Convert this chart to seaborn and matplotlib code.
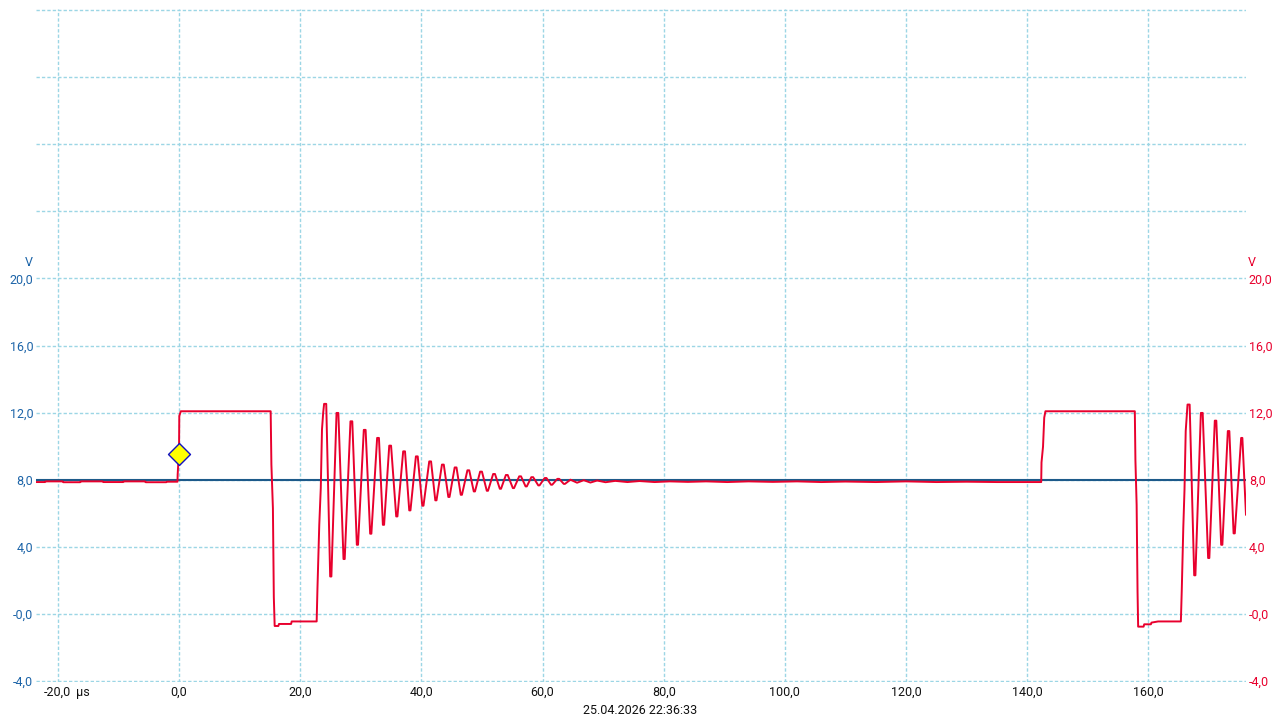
import matplotlib
matplotlib.use("Agg")
import matplotlib.pyplot as plt
import seaborn as sns
import pandas as pd

# ---- data (time in µs, voltage in V) ----
t_pre = [-23.6, -22.1, -22.0, -19.2, -19.1, -16.3, -16.2, -12.6, -12.5,
         -9.2, -9.1, -5.6, -5.5, -2.1, -2.0, -0.25]
v_pre = [7.86, 7.86, 7.9, 7.9, 7.85, 7.85, 7.9, 7.9, 7.86,
         7.86, 7.9, 7.9, 7.85, 7.85, 7.88, 7.88]

t_pulse1 = [-0.22, -0.1, 0.0, 0.05, 0.3, 15.13, 15.25, 15.5, 15.65, 15.79,
            16.4, 16.5, 18.5, 18.6, 22.72, 22.85, 23.15, 23.4, 23.6, 23.8]
v_pulse1 = [8.3, 9.1, 9.55, 11.8, 12.08, 12.08, 8.9, 6.3, 1.0, -0.72,
            -0.72, -0.6, -0.6, -0.45, -0.45, 1.5, 5.3, 7.5, 11.0, 12.0]

# ringing after the first pulse: flat top / flat bottom of each swing
peak1_start = [23.95, 26.0, 28.3, 30.5, 32.7, 34.7, 37.0, 39.1, 41.3, 43.4,
               45.5, 47.6, 49.7, 51.85, 53.95, 56.15, 58.15, 60.35, 62.45]
peak1_end = [24.3, 26.3, 28.6, 30.8, 33.0, 35.0, 37.3, 39.4, 41.6, 43.7,
             45.8, 47.9, 50.0, 52.15, 54.25, 56.45, 58.45, 60.65, 62.75]
peak1_v = [12.52, 11.98, 11.48, 10.97, 10.49, 10.03, 9.69, 9.39, 9.09, 8.90,
           8.73, 8.56, 8.48, 8.34, 8.28, 8.2, 8.15, 8.1, 8.05]
trough1_start = [24.95, 27.15, 29.35, 31.55, 33.65, 35.85, 38.0, 40.15, 42.3, 44.45,
                 46.5, 48.65, 50.8, 52.95, 55.1, 57.2, 59.3, 61.4, 63.5]
trough1_end = [25.15, 27.35, 29.55, 31.75, 33.85, 36.05, 38.2, 40.35, 42.5, 44.65,
               46.7, 48.85, 51.0, 53.15, 55.3, 57.4, 59.5, 61.6, 63.7]
trough1_v = [2.23, 3.27, 4.12, 4.78, 5.31, 5.81, 6.17, 6.45, 6.77, 6.97,
             7.10, 7.30, 7.34, 7.46, 7.50, 7.6, 7.66, 7.7, 7.75]

t_mid = [64.6, 65.7, 66.8, 67.9, 69.0, 70.4, 72.0, 74.0, 76.0, 78.5, 81.0,
         84.0, 87.0, 90.5, 94.0, 98.0, 102.0, 106.0, 110.0, 115.0, 120.0,
         125.0, 130.0, 135.0, 140.0, 142.3]
v_mid = [8.0, 7.82, 7.97, 7.83, 7.95, 7.85, 7.93, 7.86, 7.92, 7.86, 7.9,
         7.87, 7.9, 7.86, 7.9, 7.87, 7.9, 7.86, 7.89, 7.86, 7.9, 7.86,
         7.88, 7.86, 7.86, 7.86]

t_pulse2 = [142.35, 142.6, 142.8, 143.0, 157.75, 157.85, 158.05, 158.2, 158.3,
            159.2, 159.3, 160.4, 160.5, 161.6, 165.35, 165.5, 165.75, 165.95,
            166.15, 166.35]
v_pulse2 = [9.03, 9.97, 11.7, 12.08, 12.08, 9.15, 6.5, 1.33, -0.76,
            -0.76, -0.62, -0.62, -0.52, -0.45, -0.45, 1.43, 5.13, 7.4,
            10.9, 12.0]

peak2_start = [166.45, 168.65, 170.95, 173.1, 175.3]
peak2_end = [166.8, 168.95, 171.2, 173.35, 175.5]
peak2_v = [12.48, 11.98, 11.52, 10.9, 10.49]
trough2_start = [167.55, 169.85, 172.0, 174.05]
trough2_end = [167.75, 170.05, 172.2, 174.25]
trough2_v = [2.3, 3.33, 4.12, 4.8]
t_last = [176.1]
v_last = [5.9]

trigger_t = [0.0]
trigger_v = [9.55]
ref_level = 8.0

y_ticks = [-4, 0, 4, 8, 12, 16, 20, 24, 28, 32, 36]
y_labels = ["-4,0", "-0,0", "4,0", "8,0", "12,0", "16,0", "20,0", "", "", "", ""]
x_ticks = [-20, 0, 20, 40, 60, 80, 100, 120, 140, 160]
x_labels = ["-20,0", "0,0", "20,0", "40,0", "60,0", "80,0", "100,0", "120,0", "140,0", "160,0"]
stamp = "25.04.2026 22:36:33"


def _ringing(p0, p1, pv, q0, q1, qv):
    # walk top -> bottom -> top ... using the listed flat segments
    ts, vs = [], []
    for i in range(len(p0)):
        ts += [p0[i], p1[i]]
        vs += [pv[i], pv[i]]
        if i < len(q0):
            ts += [q0[i], q1[i]]
            vs += [qv[i], qv[i]]
    return ts, vs


r1_t, r1_v = _ringing(peak1_start, peak1_end, peak1_v, trough1_start, trough1_end, trough1_v)
r2_t, r2_v = _ringing(peak2_start, peak2_end, peak2_v, trough2_start, trough2_end, trough2_v)

t_all = t_pre + t_pulse1 + r1_t + t_mid + t_pulse2 + r2_t + t_last
v_all = v_pre + v_pulse1 + r1_v + v_mid + v_pulse2 + r2_v + v_last
df = pd.DataFrame({"t": t_all, "v": v_all})

RED = "#e8002d"
BLUE_TXT = "#1c64a8"
GRID = "#9cd6e5"
FS = 9

sns.set_theme(style="white")
plt.rcParams["font.family"] = ["Roboto", "DejaVu Sans"]

fig = plt.figure(figsize=(12.8, 7.2), dpi=100)
# one extra pixel below so the -4 V grid line is not half clipped
ax = fig.add_axes([36 / 1280, 38 / 720, 1210 / 1280, 673 / 720])
ax.set_xlim(-23.6, 176.1)
ax.set_ylim(-4.06, 36.06)

ax.axhline(ref_level, color="#1d5a8a", lw=1.5, zorder=2)
sns.lineplot(data=df, x="t", y="v", estimator=None, sort=False,
             color=RED, lw=1.4, ax=ax, zorder=3)
sns.scatterplot(x=trigger_t, y=trigger_v, marker="D", s=125, color="#ffff00",
                edgecolor="#1010c0", linewidth=1.0, ax=ax, zorder=4)

ax.set_xticks(x_ticks)
ax.set_xticklabels(x_labels)
ax.set_yticks(y_ticks)
ax.set_yticklabels(y_labels)
ax.grid(True, color=GRID, lw=1, linestyle=(0, (2.4, 1.5)))
ax.tick_params(axis="both", length=0, labelsize=FS)
ax.tick_params(axis="y", colors=BLUE_TXT, pad=2)
ax.tick_params(axis="x", colors="#111111", pad=3)
ax.set_xlabel("")
ax.set_ylabel("")
for s in ax.spines.values():
    s.set_visible(False)

ax2 = ax.twinx()
ax2.set_ylim(-4.06, 36.06)
ax2.set_yticks(y_ticks)
ax2.set_yticklabels(y_labels)
ax2.tick_params(axis="y", length=0, labelsize=FS, colors=RED, pad=2)
for s in ax2.spines.values():
    s.set_visible(False)
ax2.grid(False)

ax.annotate("µs", xy=(-20, -4.06), xytext=(18, -4), textcoords="offset pixels",
            ha="left", va="top", fontsize=FS, color="#111111", annotation_clip=False)
fig.text(29 / 1280, 1 - 262 / 720, "V", ha="center", va="center",
         fontsize=FS, color=BLUE_TXT)
fig.text(1252 / 1280, 1 - 262 / 720, "V", ha="center", va="center",
         fontsize=FS, color=RED)
fig.text(0.5, 1 - 710 / 720, stamp, ha="center", va="center",
         fontsize=FS, color="#111111")

fig.savefig("out.png", dpi=100)
